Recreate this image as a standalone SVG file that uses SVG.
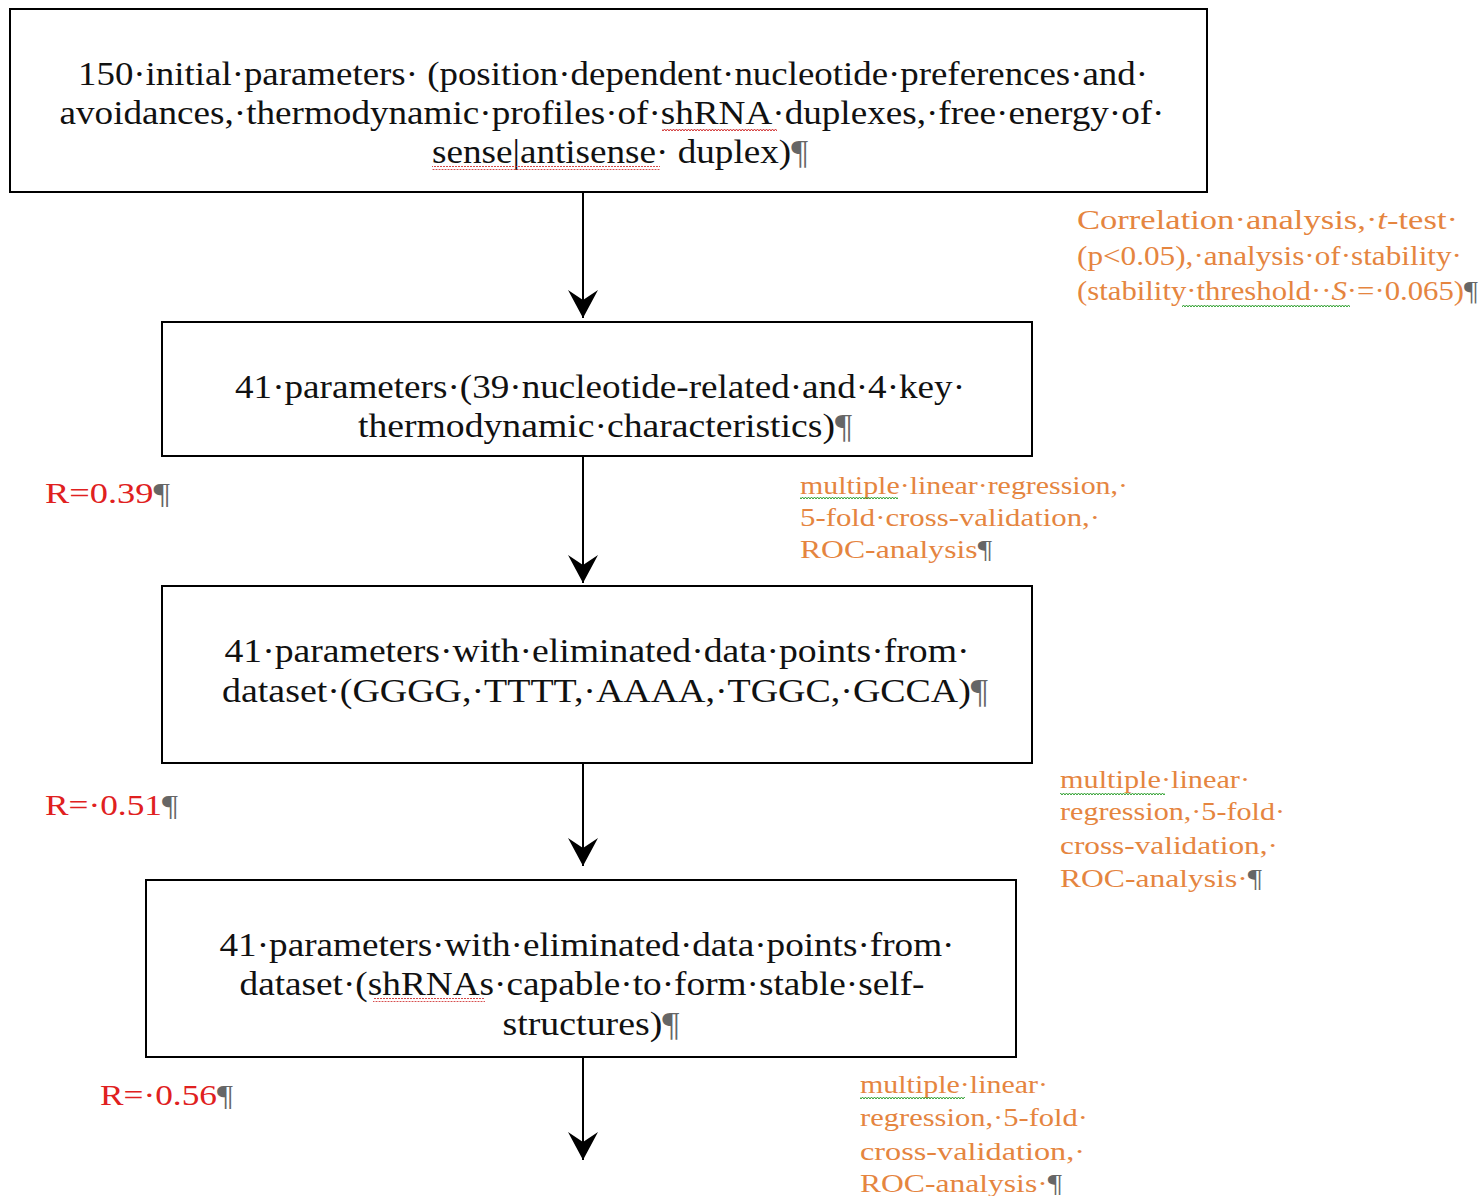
<svg xmlns="http://www.w3.org/2000/svg" width="1483" height="1196" viewBox="0 0 1483 1196">
<style>
.box{fill:#fff;stroke:#000;stroke-width:2}
.bt{font-family:"Liberation Serif","Times New Roman",serif;font-size:34px;fill:#111;text-anchor:middle}
.ot{font-family:"Liberation Serif","Times New Roman",serif;fill:#E5853F}
.o1{font-size:28px}
.o2{font-size:26px}
.rt{font-family:"Liberation Serif","Times New Roman",serif;font-size:29px;fill:#E02020}
.pil{fill:#666}
.conn{stroke:#000;stroke-width:2;fill:none}
</style>
<defs>
<marker id="arr" viewBox="0 -16 30 32" refX="28" refY="0" markerWidth="30" markerHeight="32" markerUnits="userSpaceOnUse" orient="auto">
<path d="M0,-15 L28,0 L0,15 L10,0 Z" fill="#000"/>
</marker>
<pattern id="wavR" width="6" height="4" patternUnits="userSpaceOnUse">
<polyline points="0,3 1.5,1 3,3 4.5,1 6,3" fill="none" stroke="#d03030" stroke-width="1"/>
</pattern>
<pattern id="wavG" width="6" height="4" patternUnits="userSpaceOnUse">
<polyline points="0,3 1.5,1 3,3 4.5,1 6,3" fill="none" stroke="#30a030" stroke-width="1"/>
</pattern>
</defs>

<g id="connectors">
<line class="conn" x1="583" y1="192" x2="583" y2="318" marker-end="url(#arr)"/>
<line class="conn" x1="583" y1="456" x2="583" y2="583" marker-end="url(#arr)"/>
<line class="conn" x1="583" y1="763" x2="583" y2="866" marker-end="url(#arr)"/>
<line class="conn" x1="583" y1="1057" x2="583" y2="1160" marker-end="url(#arr)"/>
</g>

<g id="node1">
<rect class="box" x="10" y="9" width="1197" height="183"/>
<text class="bt" x="613" y="85" textLength="1070" lengthAdjust="spacingAndGlyphs">150·initial·parameters· (position·dependent·nucleotide·preferences·and·</text>
<text class="bt" x="612" y="124" textLength="1105" lengthAdjust="spacingAndGlyphs">avoidances,·thermodynamic·profiles·of·shRNA·duplexes,·free·energy·of·</text>
<text class="bt" x="620" y="163" textLength="376" lengthAdjust="spacingAndGlyphs">sense|antisense· duplex)<tspan class="pil">¶</tspan></text>
<rect x="662" y="127" width="115" height="4" fill="url(#wavR)"/>
<rect x="432" y="166" width="228" height="4" fill="url(#wavR)"/>
</g>

<g id="node2">
<rect class="box" x="162" y="322" width="870" height="134"/>
<text class="bt" x="600" y="398" textLength="730" lengthAdjust="spacingAndGlyphs">41·parameters·(39·nucleotide-related·and·4·key·</text>
<text class="bt" x="605" y="437" textLength="494" lengthAdjust="spacingAndGlyphs">thermodynamic·characteristics)<tspan class="pil">¶</tspan></text>
</g>

<g id="node3">
<rect class="box" x="162" y="586" width="870" height="177"/>
<text class="bt" x="597" y="662" textLength="745" lengthAdjust="spacingAndGlyphs">41·parameters·with·eliminated·data·points·from·</text>
<text class="bt" x="605" y="702" textLength="766" lengthAdjust="spacingAndGlyphs">dataset·(GGGG,·TTTT,·AAAA,·TGGC,·GCCA)<tspan class="pil">¶</tspan></text>
</g>

<g id="node4">
<rect class="box" x="146" y="880" width="870" height="177"/>
<text class="bt" x="587" y="956" textLength="735" lengthAdjust="spacingAndGlyphs">41·parameters·with·eliminated·data·points·from·</text>
<text class="bt" x="582" y="995" textLength="685" lengthAdjust="spacingAndGlyphs">dataset·(shRNAs·capable·to·form·stable·self-</text>
<text class="bt" x="591" y="1035" textLength="177" lengthAdjust="spacingAndGlyphs">structures)<tspan class="pil">¶</tspan></text>
<rect x="373" y="998" width="112" height="4" fill="url(#wavR)"/>
</g>

<g id="label-correlation">
<text class="ot o1" x="1077" y="229" textLength="381" lengthAdjust="spacingAndGlyphs">Correlation·analysis,·<tspan font-style="italic">t</tspan>-test·</text>
<text class="ot o1" x="1077" y="265" textLength="385" lengthAdjust="spacingAndGlyphs">(p&lt;0.05),·analysis·of·stability·</text>
<text class="ot o1" x="1077" y="300" textLength="401" lengthAdjust="spacingAndGlyphs">(stability·threshold··<tspan font-style="italic">S</tspan>·=·0.065)<tspan class="pil">¶</tspan></text>
<rect x="1182" y="303" width="168" height="4" fill="url(#wavG)"/>
</g>

<g id="label-r1">
<text class="rt" x="45" y="503" textLength="125" lengthAdjust="spacingAndGlyphs">R=0.39<tspan class="pil">¶</tspan></text>
</g>

<g id="label-mlr1">
<text class="ot o2" x="800" y="494" textLength="328" lengthAdjust="spacingAndGlyphs">multiple·linear·regression,·</text>
<text class="ot o2" x="800" y="526" textLength="300" lengthAdjust="spacingAndGlyphs">5-fold·cross-validation,·</text>
<text class="ot o2" x="800" y="558" textLength="192" lengthAdjust="spacingAndGlyphs">ROC-analysis<tspan class="pil">¶</tspan></text>
<rect x="800" y="497" width="98" height="4" fill="url(#wavG)"/>
</g>

<g id="label-r2">
<text class="rt" x="45" y="815" textLength="133" lengthAdjust="spacingAndGlyphs">R=·0.51<tspan class="pil">¶</tspan></text>
</g>

<g id="label-mlr2">
<text class="ot o2" x="1060" y="788" textLength="190" lengthAdjust="spacingAndGlyphs">multiple·linear·</text>
<text class="ot o2" x="1060" y="820" textLength="225" lengthAdjust="spacingAndGlyphs">regression,·5-fold·</text>
<text class="ot o2" x="1060" y="854" textLength="218" lengthAdjust="spacingAndGlyphs">cross-validation,·</text>
<text class="ot o2" x="1060" y="887" textLength="202" lengthAdjust="spacingAndGlyphs">ROC-analysis·<tspan class="pil">¶</tspan></text>
<rect x="1060" y="791" width="105" height="4" fill="url(#wavG)"/>
</g>

<g id="label-r3">
<text class="rt" x="100" y="1105" textLength="133" lengthAdjust="spacingAndGlyphs">R=·0.56<tspan class="pil">¶</tspan></text>
</g>

<g id="label-mlr3">
<text class="ot o2" x="860" y="1093" textLength="188" lengthAdjust="spacingAndGlyphs">multiple·linear·</text>
<text class="ot o2" x="860" y="1126" textLength="228" lengthAdjust="spacingAndGlyphs">regression,·5-fold·</text>
<text class="ot o2" x="860" y="1160" textLength="225" lengthAdjust="spacingAndGlyphs">cross-validation,·</text>
<text class="ot o2" x="860" y="1192" textLength="202" lengthAdjust="spacingAndGlyphs">ROC-analysis·<tspan class="pil">¶</tspan></text>
<rect x="860" y="1096" width="105" height="4" fill="url(#wavG)"/>
</g>
</svg>
